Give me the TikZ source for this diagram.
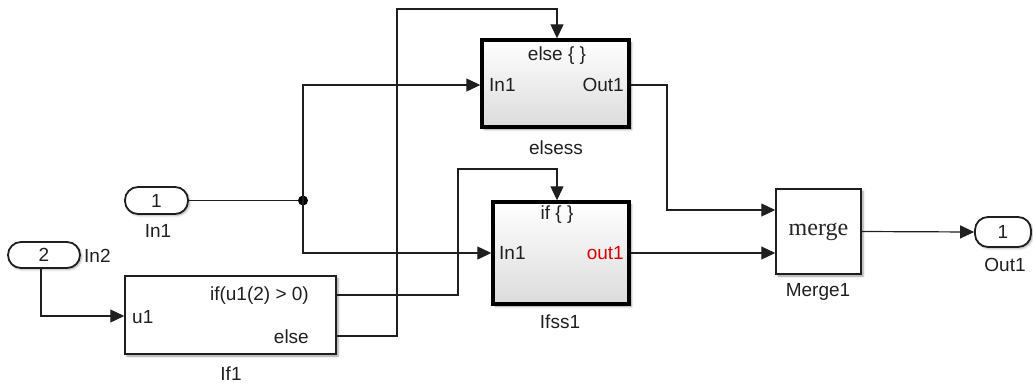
\documentclass[tikz,border=0pt]{standalone}
\usepackage{fontspec}
\setmainfont{Liberation Sans}
\newfontfamily\mergefont{Liberation Serif}
\usetikzlibrary{arrows.meta,shadows.blur}
\begin{document}
\begin{tikzpicture}[x=1pt,y=-1pt,
  font=\fontsize{19}{21}\selectfont,
  wire/.style={draw=black!88, line width=1.2pt},
  arr/.style={-{Triangle[length=14pt,width=13pt]}},
  lab/.style={inner sep=0pt, text=black!88},
  pill/.style={draw=black!88, line width=1.8pt, rounded corners=13pt, fill=white, inner sep=0pt, text=black!88,
     blur shadow={shadow xshift=1.5pt, shadow yshift=-1.5pt, shadow blur steps=4, shadow opacity=35}},
  blk/.style={draw=black!88, line width=1.5pt, fill=white, inner sep=0pt,
     blur shadow={shadow xshift=2pt, shadow yshift=-2pt, shadow blur steps=5, shadow opacity=40}},
  sub/.style={draw=black, line width=3.4pt, top color=white, bottom color=black!14, inner sep=0pt,
     blur shadow={shadow xshift=2.5pt, shadow yshift=-2.5pt, shadow blur steps=5, shadow opacity=40}}]
\useasboundingbox (0,0) rectangle (1033,384);

% inports / outport
\node[pill, minimum width=63pt, minimum height=27pt] (in1) at (156.5,200.5) {1};
\node[lab] (in1lab) at (158,231) {In1};
\node[pill, minimum width=72pt, minimum height=26pt] (in2) at (44,255) {2};
\node[lab, anchor=west] (in2lab) at (84,256) {In2};
\node[pill, minimum width=56pt, minimum height=30pt] (out1) at (1003,232) {1};
\node[lab] (out1lab) at (1005,265) {Out1};

% If block
\node[blk, minimum width=211pt, minimum height=78pt] (if1) at (230.5,315) {};
\node[lab, anchor=east] (if1a) at (309,296) {if(u1(2) > 0)};
\node[lab, anchor=east] (if1b) at (309,337) {else};
\node[lab, anchor=west] (if1u) at (132,317) {u1};
\node[lab] (if1lab) at (231,374) {If1};

% else subsystem
\node[sub, minimum width=147pt, minimum height=87pt] (els) at (555.5,83.5) {};
\node[lab] (elsa) at (557,56) {else \{ \}};
\node[lab, anchor=west] (elsin) at (489,85) {In1};
\node[lab, anchor=east] (elsout) at (624,85) {Out1};
\node[lab] (elslab) at (556,148) {elsess};

% if subsystem
\node[sub, minimum width=136pt, minimum height=102pt] (ifs) at (561,253) {};
\node[lab] (ifsa) at (557,215) {if \{ \}};
\node[lab, anchor=west] (ifsin) at (499,253) {In1};
\node[lab, anchor=east, text=red!85!black] (ifsout) at (624,253) {out1};
\node[lab] (ifslab) at (560,322) {Ifss1};

% merge
\node[blk, minimum width=85pt, minimum height=85pt, text=black!85, font=\mergefont\fontsize{24}{25}\selectfont] (mrg) at (818.5,231.5) {merge};
\node[lab] (mrglab) at (818,292) {Merge1};

% wires
\coordinate (j) at (303,200.5);
\coordinate (t1) at (458,169);
\coordinate (t2) at (397,9);
\coordinate (t3) at (667,210);
\draw[wire] (in1.east) -- (j);
\fill[black] (j) circle (5pt);
\draw[wire,arr] (j) |- ([yshift=-1.5pt]els.west);
\draw[wire,arr] (j) |- (ifs.west);
\draw[wire,arr] ([xshift=-3pt]in2.south) |- ([yshift=-1pt]if1.west);
\draw[wire,arr] ([yshift=20pt]if1.east) -| (t1) -| ([xshift=-4pt]ifs.north);
\draw[wire,arr] ([yshift=-21pt]if1.east) -| (t2) -| ([xshift=1.5pt]els.north);
\draw[wire,arr] ([yshift=-1.5pt]els.east) -| (t3) -- ([yshift=21.5pt]mrg.west);
\draw[wire,arr] (ifs.east) -- ([yshift=-21.5pt]mrg.west);
\draw[wire,arr] (mrg.east) -- (out1.west);
\end{tikzpicture}
\end{document}
